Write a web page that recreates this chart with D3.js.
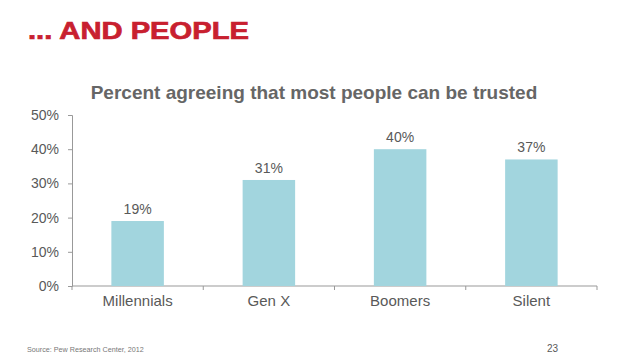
<!DOCTYPE html>
<html><head><meta charset="utf-8">
<script src="https://cdn.jsdelivr.net/npm/d3@7"></script>
<style>body{margin:0;background:#fff;} svg{display:block;font-family:"Liberation Sans",Arial,Helvetica,sans-serif;}</style>
</head><body>
<svg id="chart" width="638" height="359"></svg>
<script>
const categories = ["Millennials", "Gen X", "Boomers", "Silent"];
const values = [19, 31, 40, 37];
const yTicks = [0, 10, 20, 30, 40, 50];
const title = "... AND PEOPLE";
const subtitle = "Percent agreeing that most people can be trusted";
const source = "Source:  Pew Research Center, 2012";
const pageNum = "23";

(function () {
const svg = d3.select("#chart");
const mLeft = 72, mRight = 597, mTop = 115, mBottom = 286;

const x = d3.scaleBand().domain(categories).range([mLeft, mRight]).paddingInner(0.6).paddingOuter(0.3);
const y = d3.scaleLinear().domain([0, 50]).range([mBottom, mTop]);

svg.append("text").attr("x", 28).attr("y", 38.5).attr("fill", "#c8202f")
  .attr("stroke", "#c8202f").attr("stroke-width", 0.7)
  .attr("font-size", 24).attr("font-weight", "bold")
  .attr("textLength", 221).attr("lengthAdjust", "spacingAndGlyphs").text(title);

svg.append("text").attr("x", 314).attr("y", 99).attr("text-anchor", "middle").attr("fill", "#666")
  .attr("font-size", 19).attr("font-weight", "bold").text(subtitle);

const yAxis = svg.append("g").attr("transform", `translate(${mLeft},0)`)
  .call(d3.axisLeft(y).tickValues(yTicks).tickFormat(d => d + "%").tickSize(4).tickPadding(9));
yAxis.select(".domain").attr("stroke", "#999");
yAxis.selectAll(".tick line").attr("stroke", "#999");
yAxis.selectAll(".tick text").attr("fill", "#595959").attr("font-size", 14).attr("font-family", "Liberation Sans, Arial, sans-serif");

const xScaleTicks = d3.scalePoint().domain(d3.range(categories.length + 1)).range([mLeft, mRight]);
const xAxisG = svg.append("g").attr("transform", `translate(0,${mBottom})`);
xAxisG.append("line").attr("x1", mLeft).attr("x2", mRight).attr("stroke", "#999");
xAxisG.selectAll("line.t").data(d3.range(categories.length + 1)).enter().append("line")
  .attr("x1", d => xScaleTicks(d)).attr("x2", d => xScaleTicks(d)).attr("y1", 0).attr("y2", 4).attr("stroke", "#999");
const xAxis = svg.append("g").attr("transform", `translate(0,${mBottom})`)
  .call(d3.axisBottom(x).tickSize(0).tickPadding(9));
xAxis.select(".domain").remove();
xAxis.selectAll(".tick text").attr("fill", "#595959").attr("font-size", 15).attr("font-family", "Liberation Sans, Arial, sans-serif");

svg.selectAll("rect.bar").data(values).enter().append("rect").attr("class", "bar")
  .attr("x", (d, i) => x(categories[i])).attr("width", x.bandwidth())
  .attr("y", d => y(d)).attr("height", d => y(0) - y(d)).attr("fill", "#a2d5de");

svg.selectAll("text.val").data(values).enter().append("text").attr("class", "val")
  .attr("x", (d, i) => x(categories[i]) + x.bandwidth() / 2).attr("y", d => y(d) - 7)
  .attr("text-anchor", "middle").attr("fill", "#595959").attr("font-size", 14).text(d => d + "%");

svg.append("text").attr("x", 27).attr("y", 352).attr("fill", "#777").attr("font-size", 7.2).text(source);
svg.append("text").attr("x", 558).attr("y", 352).attr("text-anchor", "end").attr("fill", "#595959").attr("font-size", 10).text(pageNum);
})();
</script>
</body></html>
